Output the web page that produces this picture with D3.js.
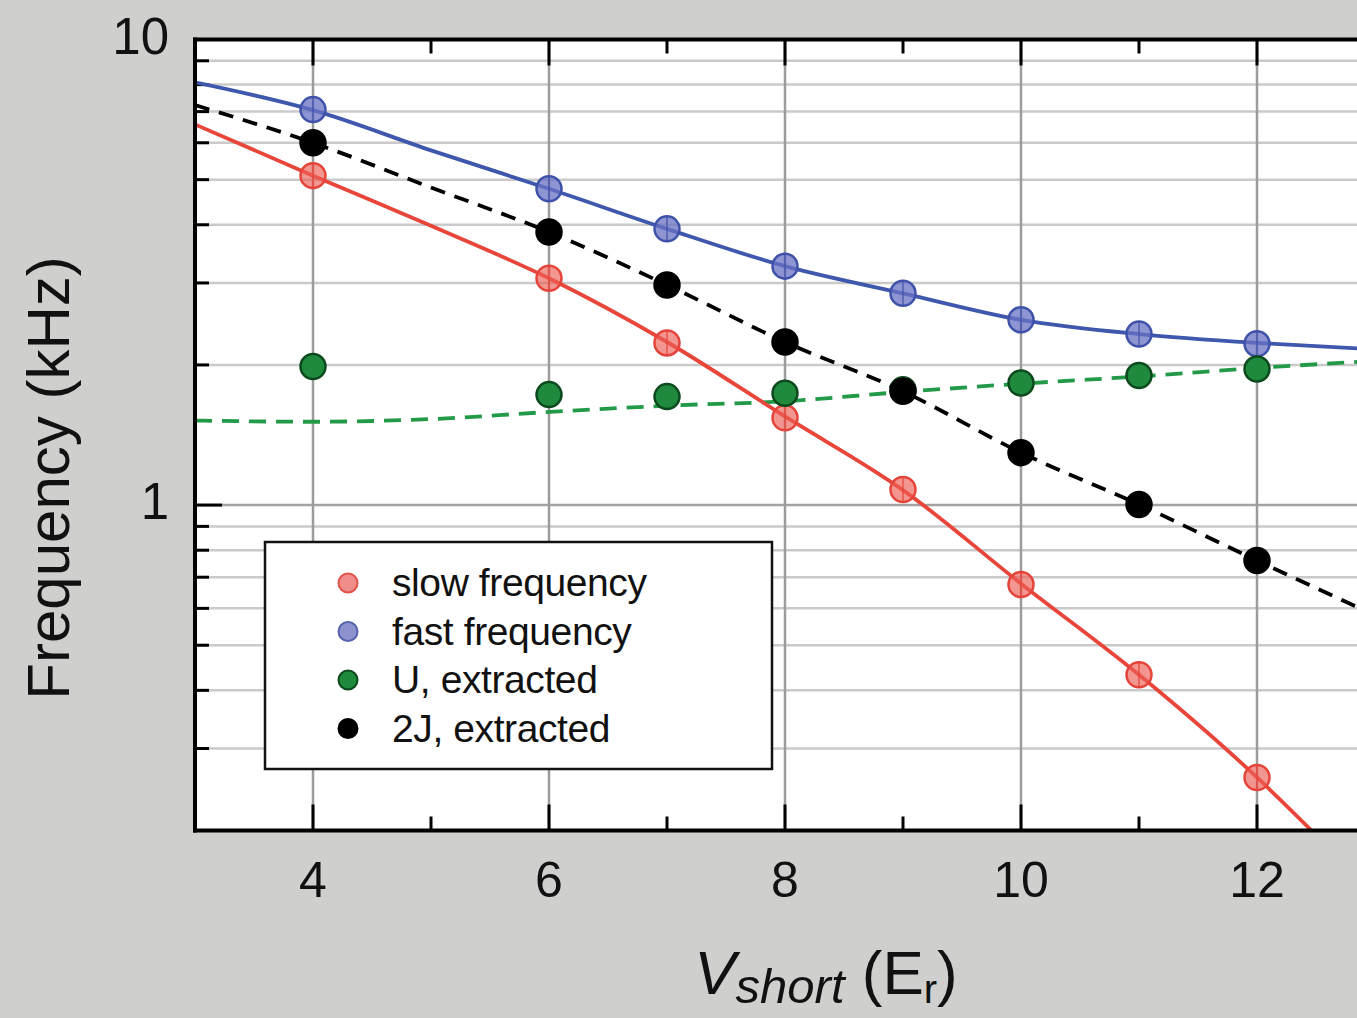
<!DOCTYPE html>
<html>
<head>
<meta charset="utf-8">
<script src="https://cdn.jsdelivr.net/npm/d3@7"></script>
<style>
  html, body { margin: 0; padding: 0; background: #cfcfcd; }
  svg { display: block; }
  text { font-family: "Liberation Sans", Arial, Helvetica, sans-serif; fill: #111; }
</style>
</head>
<body>
<svg id="chart" width="1357" height="1018"></svg>
<script>
// Measured frequencies versus lattice depth V_short (in recoil energies)
const vShort = [4, 6, 7, 8, 9, 10, 11, 12];
const slowFreq = [5.10, 3.07, 2.23, 1.54, 1.08, 0.675, 0.432, 0.260];
const fastFreq = [7.07, 4.78, 3.92, 3.26, 2.85, 2.50, 2.33, 2.22];
const uExtracted = [1.985, 1.727, 1.710, 1.738, 1.77, 1.829, 1.898, 1.960];
const twoJExtracted = [6.00, 3.86, 2.97, 2.24, 1.755, 1.296, 1.003, 0.760];

// Theory curves
const fitX = [3, 4, 5, 6, 7, 8, 9, 10, 11, 12, 12.85];
const fastFit = [8.09, 7.05, 5.78, 4.78, 3.92, 3.26, 2.85, 2.50, 2.33, 2.23, 2.17];
const twoJFit = [7.23, 6.00, 4.81, 3.86, 2.97, 2.24, 1.755, 1.296, 1.003, 0.760, 0.604];
const uFit = [1.519, 1.510, 1.53, 1.585, 1.635, 1.671, 1.75, 1.823, 1.889, 1.97, 2.03];
const slowFitX = [3, 4, 5, 6, 7, 8, 9, 10, 11, 12, 12.55];
const slowFit = [6.57, 5.10, 3.98, 3.07, 2.24, 1.55, 1.077, 0.678, 0.432, 0.260, 0.19];

// Axis ticks
const xMajorTicks = [4, 6, 8, 10, 12];
const xMinorTicks = [5, 7, 9, 11];
const yMajorTicks = [1, 10];
const yMinorTicks = [0.3, 0.4, 0.5, 0.6, 0.7, 0.8, 0.9, 2, 3, 4, 5, 6, 7, 8, 9];

const legendLabels = ["slow frequency", "fast frequency", "U, extracted", "2J, extracted"];

const svg = d3.select("#chart");
const plotLeft = 195, plotRight = 1375, plotTop = 39.5, plotBottom = 830.5;

const x = d3.scaleLinear().domain([3, 13]).range([plotLeft, plotRight]);
const y = d3.scaleLog().domain([0.2, 10]).range([plotBottom, plotTop]);

// plot background
svg.append("rect").attr("x", plotLeft).attr("y", plotTop)
  .attr("width", plotRight - plotLeft).attr("height", plotBottom - plotTop).attr("fill", "#ffffff");

svg.append("clipPath").attr("id", "plotClip").append("rect")
  .attr("x", plotLeft).attr("y", plotTop).attr("width", plotRight - plotLeft).attr("height", plotBottom - plotTop);

// grid
const grid = svg.append("g");
grid.append("g").selectAll("line").data(yMinorTicks).join("line")
  .attr("x1", plotLeft).attr("x2", plotRight)
  .attr("y1", d => y(d)).attr("y2", d => y(d))
  .attr("stroke", "#cacaca").attr("stroke-width", 2.5);
grid.append("g").selectAll("line").data([1]).join("line")
  .attr("x1", plotLeft).attr("x2", plotRight)
  .attr("y1", d => y(d)).attr("y2", d => y(d))
  .attr("stroke", "#a2a2a2").attr("stroke-width", 2.5);
grid.append("g").selectAll("line").data(xMajorTicks).join("line")
  .attr("x1", d => x(d)).attr("x2", d => x(d))
  .attr("y1", plotTop).attr("y2", plotBottom)
  .attr("stroke", "#9c9c9c").attr("stroke-width", 2.5);

// axes: ticks drawn inward
const axes = svg.append("g").attr("stroke", "#000").attr("stroke-width", 3);
function xTicks(vals, len) {
  axes.append("g").selectAll("line").data(vals).join("line")
    .attr("x1", d => x(d)).attr("x2", d => x(d)).attr("y1", plotBottom).attr("y2", plotBottom - len);
  axes.append("g").selectAll("line").data(vals).join("line")
    .attr("x1", d => x(d)).attr("x2", d => x(d)).attr("y1", plotTop).attr("y2", plotTop + len);
}
xTicks(xMajorTicks, 26);
xTicks(xMinorTicks, 14);
axes.append("g").selectAll("line").data(yMajorTicks).join("line")
  .attr("x1", plotLeft).attr("x2", plotLeft + 27).attr("y1", d => y(d)).attr("y2", d => y(d));
axes.append("g").selectAll("line").data(yMinorTicks).join("line")
  .attr("x1", plotLeft).attr("x2", plotLeft + 14).attr("y1", d => y(d)).attr("y2", d => y(d));

// curves
const plot = svg.append("g").attr("clip-path", "url(#plotClip)");
const line = d3.line().x(d => x(d[0])).y(d => y(d[1])).curve(d3.curveMonotoneX);
const zipped = (xs, ys) => xs.map((v, i) => [v, ys[i]]);

plot.append("path").attr("d", line(zipped(fitX, uFit)))
  .attr("fill", "none").attr("stroke", "#229a48").attr("stroke-width", 3.8)
  .attr("stroke-dasharray", "17,10");
plot.append("path").attr("d", line(zipped(fitX, twoJFit)))
  .attr("fill", "none").attr("stroke", "#000").attr("stroke-width", 3.8)
  .attr("stroke-dasharray", "15,10");
plot.append("path").attr("d", line(zipped(fitX, fastFit)))
  .attr("fill", "none").attr("stroke", "#3f57ad").attr("stroke-width", 3.8);
plot.append("path").attr("d", line(zipped(slowFitX, slowFit)))
  .attr("fill", "none").attr("stroke", "#e8463a").attr("stroke-width", 3.8);

// data markers
const R = 12.5;
function markers(vals, fill, stroke, opacity, withBar) {
  const g = plot.append("g");
  const pts = zipped(vShort, vals);
  g.selectAll("circle").data(pts).join("circle")
    .attr("cx", d => x(d[0])).attr("cy", d => y(d[1])).attr("r", R)
    .attr("fill", fill).attr("fill-opacity", opacity)
    .attr("stroke", stroke).attr("stroke-width", 2.5);
  if (withBar) {
    g.selectAll("line").data(pts).join("line")
      .attr("x1", d => x(d[0])).attr("x2", d => x(d[0]))
      .attr("y1", d => y(d[1]) - R).attr("y2", d => y(d[1]) + R)
      .attr("stroke", stroke).attr("stroke-width", 1.5).attr("stroke-opacity", 0.8);
  }
}
markers(slowFreq, "#ec5e55", "#e5443a", 0.65, true);
markers(fastFreq, "#6a72c4", "#3f52aa", 0.75, true);
markers(uExtracted, "#1f8a3d", "#0c4a1e", 1, false);
markers(twoJExtracted, "#000", "#000", 1, false);

// frame
const frame = svg.append("g").attr("stroke", "#000").attr("stroke-width", 4).attr("fill", "none");
frame.append("line").attr("x1", plotLeft).attr("x2", plotLeft).attr("y1", plotTop - 2).attr("y2", plotBottom + 2);
frame.append("line").attr("x1", plotLeft - 2).attr("x2", plotRight).attr("y1", plotTop).attr("y2", plotTop);
frame.append("line").attr("x1", plotLeft - 2).attr("x2", plotRight).attr("y1", plotBottom).attr("y2", plotBottom);

// tick labels
svg.append("g").selectAll("text").data(xMajorTicks).join("text")
  .attr("x", d => x(d)).attr("y", 897)
  .attr("text-anchor", "middle").attr("font-size", 50)
  .text(d => d);
svg.append("g").selectAll("text").data(yMajorTicks).join("text")
  .attr("x", 169).attr("y", d => y(d) + 14)
  .attr("text-anchor", "end").attr("font-size", 51)
  .text(d => d);

// axis titles
svg.append("text")
  .attr("transform", "translate(69,478) rotate(-90)")
  .attr("text-anchor", "middle").attr("font-size", 60)
  .text("Frequency (kHz)");

const xt = svg.append("text").attr("x", 826).attr("y", 994)
  .attr("text-anchor", "middle").attr("font-size", 62);
xt.append("tspan").attr("font-style", "italic").text("V");
xt.append("tspan").attr("font-style", "italic").attr("font-size", 49).attr("dy", 9).text("short");
xt.append("tspan").attr("dy", -9).text(" (E");
xt.append("tspan").attr("font-size", 40).attr("dy", 9).text("r");
xt.append("tspan").attr("dy", -9).text(")");

// legend
const lg = svg.append("g");
lg.append("rect").attr("x", 265).attr("y", 542).attr("width", 507).attr("height", 227)
  .attr("fill", "#fff").attr("stroke", "#111").attr("stroke-width", 2.5);
const legendStyles = [
  { fill: "#f08c8a", stroke: "#e0514a" },
  { fill: "#8d92cf", stroke: "#5662b0" },
  { fill: "#1f8a3d", stroke: "#0c4a1e" },
  { fill: "#000", stroke: "#000" }
];
const row = lg.selectAll("g.row").data(legendLabels).join("g")
  .attr("transform", (d, i) => `translate(0,${583 + i * 48.5})`);
row.append("circle").attr("cx", 348).attr("cy", 0).attr("r", 9.5)
  .attr("fill", (d, i) => legendStyles[i].fill)
  .attr("stroke", (d, i) => legendStyles[i].stroke).attr("stroke-width", 2);
row.append("text").attr("x", 392).attr("y", 13)
  .attr("font-size", 39).attr("letter-spacing", -0.4)
  .text(d => d);
</script>
</body>
</html>
